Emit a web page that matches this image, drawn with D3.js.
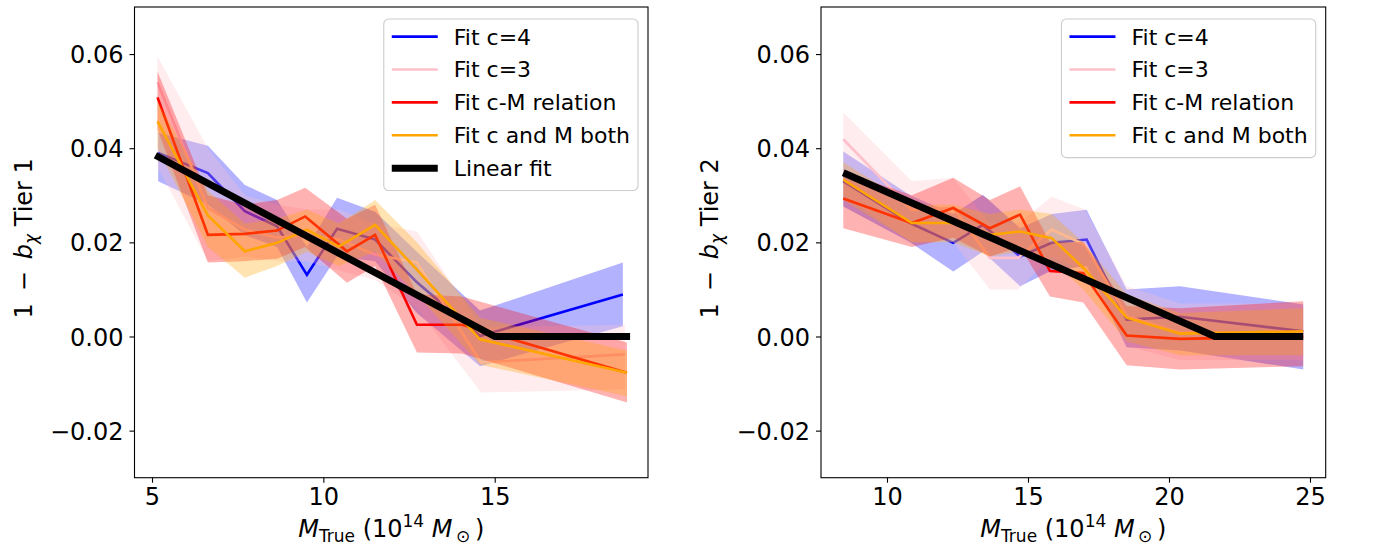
<!DOCTYPE html>
<html>
<head>
<meta charset="utf-8">
<script src="https://cdn.jsdelivr.net/npm/d3@7"></script>
<style>
  html, body { margin: 0; padding: 0; background: #fff; }
  svg { display: block; font-family: "DejaVu Sans", sans-serif; }
</style>
</head>
<body>
<svg id="chart" width="1374" height="552"></svg>
<script>
// ---------------- DATA ----------------
const seriesNames = ["Fit c=4", "Fit c=3", "Fit c-M relation", "Fit c and M both"];
const linearFitName = "Linear fit";

// Tier 1 (left panel)
const t1_c4_x  = [5.18, 6.63, 7.71, 8.65, 9.52, 10.40, 11.51, 12.73, 14.57, 18.74];
const t1_c4_y  = [0.0390, 0.0347, 0.0266, 0.0234, 0.0131, 0.0229, 0.0206, 0.0115, 0.0001, 0.0089];
const t1_c4_lo = [0.0330, 0.0280, 0.0215, 0.0190, 0.0072, 0.0170, 0.0160, 0.0050, -0.0063, 0.0022];
const t1_c4_hi = [0.0433, 0.0405, 0.0322, 0.0290, 0.0190, 0.0295, 0.0265, 0.0180, 0.0055, 0.0157];

const t1_c3_x  = [5.16, 6.63, 7.71, 8.65, 9.52, 10.45, 11.51, 12.73, 14.60, 18.80];
const t1_c3_y  = [0.0540, 0.0273, 0.0227, 0.0210, 0.0215, 0.0206, 0.0174, 0.0157, -0.0055, -0.0038];
const t1_c3_lo = [0.0360, 0.0160, 0.0170, 0.0160, 0.0160, 0.0140, 0.0120, 0.0060, -0.0119, -0.0112];
const t1_c3_hi = [0.0595, 0.0400, 0.0300, 0.0280, 0.0270, 0.0270, 0.0240, 0.0223, 0.0020, 0.0025];

const t1_cm_x  = [5.16, 6.63, 7.70, 8.65, 9.47, 10.69, 11.51, 12.73, 14.04, 18.86];
const t1_cm_y  = [0.0508, 0.0216, 0.0218, 0.0225, 0.0255, 0.0181, 0.0216, 0.0025, 0.0025, -0.0077];
const t1_cm_lo = [0.0440, 0.0157, 0.0160, 0.0165, 0.0190, 0.0114, 0.0150, -0.0034, -0.0036, -0.0140];
const t1_cm_hi = [0.0563, 0.0300, 0.0280, 0.0290, 0.0316, 0.0250, 0.0280, 0.0090, 0.0085, -0.0013];

const t1_both_x  = [5.16, 6.63, 7.71, 8.65, 9.52, 10.45, 11.51, 12.73, 14.57, 18.86];
const t1_both_y  = [0.0457, 0.0257, 0.0181, 0.0199, 0.0227, 0.0191, 0.0237, 0.0142, -0.0006, -0.0077];
const t1_both_lo = [0.0400, 0.0190, 0.0125, 0.0150, 0.0180, 0.0150, 0.0180, 0.0090, -0.0060, -0.0127];
const t1_both_hi = [0.0500, 0.0310, 0.0240, 0.0250, 0.0270, 0.0240, 0.0290, 0.0200, 0.0040, -0.0030];

const t1_lin_x = [5.10, 15.00, 18.95];
const t1_lin_y = [0.0385, 0.0, 0.0];

// Tier 2 (right panel)
const t2_c4_x  = [8.45, 10.82, 12.35, 13.40, 14.72, 15.84, 17.08, 18.50, 20.39, 24.76];
const t2_c4_y  = [0.0330, 0.0241, 0.0199, 0.0237, 0.0170, 0.0199, 0.0206, 0.0036, 0.0042, 0.0011];
const t2_c4_lo = [0.0276, 0.0200, 0.0138, 0.0180, 0.0107, 0.0140, 0.0150, -0.0023, -0.0030, -0.0070];
const t2_c4_hi = [0.0393, 0.0300, 0.0260, 0.0301, 0.0230, 0.0260, 0.0269, 0.0100, 0.0107, 0.0068];

const t2_c3_x  = [8.45, 10.88, 12.35, 13.65, 14.65, 15.84, 17.02, 18.50, 20.39, 24.76];
const t2_c3_y  = [0.0419, 0.0269, 0.0273, 0.0167, 0.0167, 0.0227, 0.0195, 0.0043, 0.0008, 0.0008];
const t2_c3_lo = [0.0300, 0.0200, 0.0200, 0.0100, 0.0100, 0.0170, 0.0140, -0.0020, -0.0050, -0.0050];
const t2_c3_hi = [0.0476, 0.0330, 0.0337, 0.0240, 0.0240, 0.0297, 0.0270, 0.0107, 0.0070, 0.0070];

const t2_cm_x  = [8.45, 10.88, 12.35, 13.65, 14.72, 15.78, 16.96, 18.50, 20.39, 24.76];
const t2_cm_y  = [0.0293, 0.0241, 0.0273, 0.0230, 0.0259, 0.0139, 0.0135, 0.0002, -0.0005, 0.0000];
const t2_cm_lo = [0.0230, 0.0190, 0.0210, 0.0170, 0.0190, 0.0085, 0.0072, -0.0061, -0.0070, -0.0063];
const t2_cm_hi = [0.0350, 0.0300, 0.0337, 0.0290, 0.0319, 0.0200, 0.0200, 0.0065, 0.0060, 0.0075];

const t2_both_x  = [8.45, 10.88, 12.35, 13.65, 14.72, 15.84, 16.96, 18.50, 20.39, 24.76];
const t2_both_y  = [0.0333, 0.0241, 0.0241, 0.0216, 0.0223, 0.0209, 0.0146, 0.0040, 0.0006, 0.0011];
const t2_both_lo = [0.0290, 0.0200, 0.0200, 0.0170, 0.0180, 0.0160, 0.0100, -0.0010, -0.0040, -0.0040];
const t2_both_hi = [0.0370, 0.0280, 0.0280, 0.0260, 0.0270, 0.0260, 0.0200, 0.0090, 0.0050, 0.0060];

const t2_lin_x = [8.45, 21.63, 24.76];
const t2_lin_y = [0.0348, 0.0, 0.0];

const yTicks = [-0.02, 0.00, 0.02, 0.04, 0.06];
const t1_xTicks = [5, 10, 15];
const t2_xTicks = [10, 15, 20, 25];
const yDomain = [-0.03, 0.07];
const t1_xDomain = [4.489, 19.473];
const t2_xDomain = [7.660, 25.557];
const t1_tierLabel = "Tier 1";
const t2_tierLabel = "Tier 2";

// ---------------- STYLE ----------------
const colors = ["#0000ff", "#ffc0cb", "#ff0000", "#ffa500"];
const bandAlpha = 0.3;

function build(xs, ys, lo, hi) {
  return xs.map((x, i) => ({x, y: ys[i], lo: lo[i], hi: hi[i]}));
}

const panels = [
  {
    left: 134.5, right: 648, top: 7, bottom: 477.7,
    xDomain: t1_xDomain, xTicks: t1_xTicks, tier: t1_tierLabel, showLinearInLegend: true,
    ylabelX: 31.5,
    series: [
      build(t1_c4_x, t1_c4_y, t1_c4_lo, t1_c4_hi),
      build(t1_c3_x, t1_c3_y, t1_c3_lo, t1_c3_hi),
      build(t1_cm_x, t1_cm_y, t1_cm_lo, t1_cm_hi),
      build(t1_both_x, t1_both_y, t1_both_lo, t1_both_hi)
    ],
    lin: t1_lin_x.map((x, i) => ({x, y: t1_lin_y[i]}))
  },
  {
    left: 821, right: 1325.7, top: 7, bottom: 477.7,
    xDomain: t2_xDomain, xTicks: t2_xTicks, tier: t2_tierLabel, showLinearInLegend: false,
    ylabelX: 718,
    series: [
      build(t2_c4_x, t2_c4_y, t2_c4_lo, t2_c4_hi),
      build(t2_c3_x, t2_c3_y, t2_c3_lo, t2_c3_hi),
      build(t2_cm_x, t2_cm_y, t2_cm_lo, t2_cm_hi),
      build(t2_both_x, t2_both_y, t2_both_lo, t2_both_hi)
    ],
    lin: t2_lin_x.map((x, i) => ({x, y: t2_lin_y[i]}))
  }
];

const svg = d3.select("#chart");
const tickFont = 24, legendFont = 22, labelFont = 24;
const fmt = d3.format(".2f");

panels.forEach(p => {
  const x = d3.scaleLinear().domain(p.xDomain).range([p.left, p.right]);
  const y = d3.scaleLinear().domain(yDomain).range([p.bottom, p.top]);
  const g = svg.append("g");

  const area = d3.area().x(d => x(d.x)).y0(d => y(d.lo)).y1(d => y(d.hi));
  const line = d3.line().x(d => x(d.x)).y(d => y(d.y));

  p.series.forEach((s, i) => {
    g.append("path").attr("d", area(s)).attr("fill", colors[i]).attr("fill-opacity", bandAlpha).attr("stroke", "none");
    g.append("path").attr("d", line(s)).attr("fill", "none").attr("stroke", colors[i])
      .attr("stroke-width", 2.6).attr("stroke-linejoin", "miter").attr("stroke-linecap", "butt");
  });
  g.append("path").attr("d", line(p.lin)).attr("fill", "none").attr("stroke", "#000")
    .attr("stroke-width", 7).attr("stroke-linejoin", "round").attr("stroke-linecap", "butt");

  // frame
  g.append("rect").attr("x", p.left).attr("y", p.top)
    .attr("width", p.right - p.left).attr("height", p.bottom - p.top)
    .attr("fill", "none").attr("stroke", "#000").attr("stroke-width", 1.1);

  // x axis
  const xAxis = d3.axisBottom(x).tickValues(p.xTicks).tickSize(5).tickPadding(5).tickFormat(d3.format("d"));
  const xg = g.append("g").attr("transform", `translate(0,${p.bottom})`).call(xAxis);
  xg.select(".domain").remove();
  xg.selectAll(".tick line").attr("stroke", "#000").attr("stroke-width", 1.1);
  xg.selectAll(".tick text").attr("font-size", tickFont).attr("font-family", "DejaVu Sans").attr("fill", "#000").attr("dy", "0.74em");

  // y axis
  const yAxis = d3.axisLeft(y).tickValues(yTicks).tickSize(5).tickPadding(6).tickFormat(fmt);
  const yg = g.append("g").attr("transform", `translate(${p.left},0)`).call(yAxis);
  yg.select(".domain").remove();
  yg.selectAll(".tick line").attr("stroke", "#000").attr("stroke-width", 1.1);
  yg.selectAll(".tick text").attr("font-size", tickFont).attr("font-family", "DejaVu Sans").attr("fill", "#000").attr("dy", "0.36em");

  // x label
  const cx = (p.left + p.right) / 2;
  const xl = g.append("text").attr("x", cx).attr("y", 537).attr("text-anchor", "middle")
    .attr("font-size", labelFont).attr("fill", "#000");
  xl.append("tspan").attr("font-style", "italic").text("M");
  xl.append("tspan").attr("font-size", 17).attr("dy", 5).text("True");
  xl.append("tspan").attr("dy", -5).text(" (10");
  xl.append("tspan").attr("font-size", 17).attr("dy", -10).text("14");
  xl.append("tspan").attr("dy", 10).text(" ");
  xl.append("tspan").attr("font-style", "italic").text("M");
  xl.append("tspan").attr("font-size", 17).attr("dy", 5).text("\u2009\u2299");
  xl.append("tspan").attr("dy", -5).text("\u2009)");

  // y label
  const cy = (p.top + p.bottom) / 2 - 4;
  const yl = g.append("text").attr("transform", `translate(${p.ylabelX},${cy}) rotate(-90)`)
    .attr("text-anchor", "middle").attr("font-size", labelFont).attr("fill", "#000");
  yl.append("tspan").text("1\u2002\u2212\u2002");
  yl.append("tspan").attr("font-style", "italic").text("b");
  yl.append("tspan").attr("font-style", "italic").attr("font-size", 17).attr("dy", 5).text("\u03c7");
  yl.append("tspan").attr("dy", -5).text(" " + p.tier);

  // legend
  const entries = seriesNames.map((n, i) => ({name: n, color: colors[i], width: 2.6}));
  if (p.showLinearInLegend) entries.push({name: linearFitName, color: "#000", width: 7});
  const lg = g.append("g");
  const box = lg.append("rect");
  const rowH = 32.9, firstRow = p.top + 29.6;
  const texts = [];
  entries.forEach((e, i) => {
    const ry = firstRow + i * rowH;
    lg.append("line").attr("x1", 0).attr("x2", 46).attr("y1", ry).attr("y2", ry)
      .attr("stroke", e.color).attr("stroke-width", e.width);
    texts.push(lg.append("text").attr("x", 62).attr("y", ry).attr("dy", "0.36em")
      .attr("font-size", legendFont).attr("fill", "#000").text(e.name));
  });
  const maxW = d3.max(texts, t => t.node().getComputedTextLength());
  const boxW = 8 + 62 + maxW + 8;
  const boxRight = p.right - 10;
  const boxLeft = boxRight - boxW;
  const boxTop = p.top + 12;
  const boxH = entries.length * rowH + 7;
  lg.selectAll("line").attr("transform", `translate(${boxLeft + 8},0)`);
  texts.forEach(t => t.attr("transform", `translate(${boxLeft + 8},0)`));
  box.attr("x", boxLeft).attr("y", boxTop).attr("width", boxW).attr("height", boxH)
    .attr("rx", 5).attr("ry", 5).attr("fill", "#fff").attr("fill-opacity", 0.8)
    .attr("stroke", "#cccccc").attr("stroke-width", 1.1);
});
</script>
</body>
</html>
